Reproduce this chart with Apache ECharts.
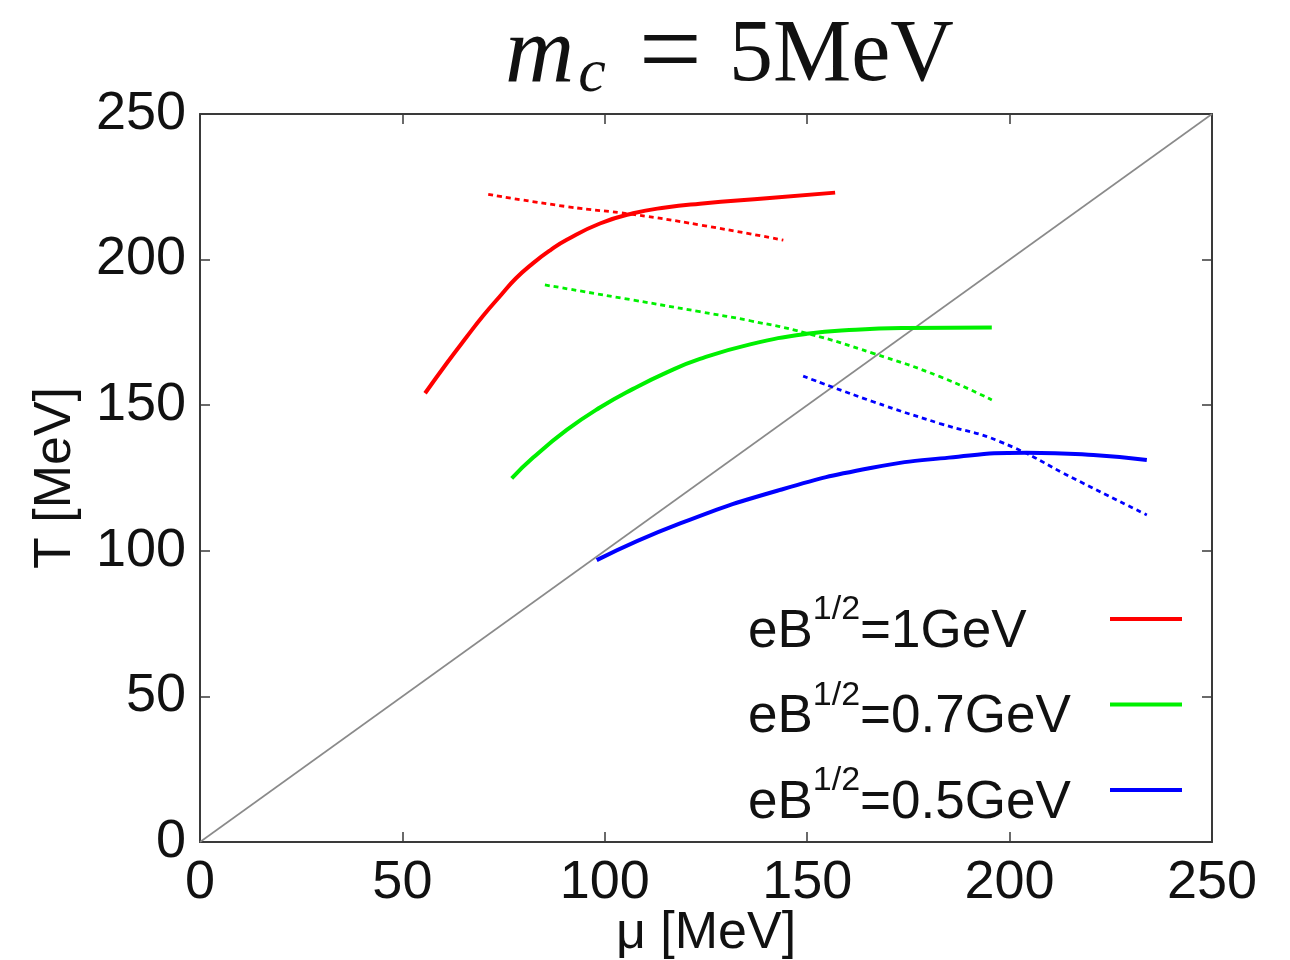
<!DOCTYPE html>
<html>
<head>
<meta charset="utf-8">
<script src="https://cdn.jsdelivr.net/npm/echarts@6/dist/echarts.min.js"></script>
<style>
  html, body { margin: 0; padding: 0; background: #fff; }
  #chart { width: 1290px; height: 960px; }
</style>
</head>
<body>
<div id="chart"></div>
<script>
// Axis ticks (MeV)
const tickValues = [0, 50, 100, 150, 200, 250];

// Legend entries (one per magnetic field strength)
const fieldLabels = ['eB1/2=1GeV', 'eB1/2=0.7GeV', 'eB1/2=0.5GeV'];

// eB^1/2 = 1 GeV : solid curve
const muRedSolid = [55.6, 61.0, 65.9, 70.0, 74.1, 78.0, 82.3, 86.5, 90.6, 98.8, 107.0, 115.0, 123.5, 140.0, 156.9];
const tRedSolid  = [154.1, 164.5, 173.5, 180.8, 187.4, 193.5, 198.8, 203.2, 206.8, 212.4, 215.9, 217.9, 219.2, 221.1, 223.0];
// eB^1/2 = 1 GeV : dashed curve
const muRedDash = [71.2, 90.6, 107.0, 123.5, 144.1];
const tRedDash  = [222.4, 218.2, 215.5, 211.9, 206.7];

// eB^1/2 = 0.7 GeV : solid curve
const muGreenSolid = [77.0, 82.3, 90.6, 98.8, 107.0, 115.2, 123.5, 135.9, 149.9, 162.0, 174.6, 195.6];
const tGreenSolid  = [124.9, 132.0, 141.5, 149.2, 155.6, 161.2, 165.9, 170.9, 174.5, 175.9, 176.5, 176.7];
// eB^1/2 = 0.7 GeV : dashed curve
const muGreenDash = [85.2, 107.0, 123.5, 135.9, 149.9, 166.3, 182.8, 195.6];
const tGreenDash  = [191.3, 186.1, 182.1, 179.0, 174.7, 167.8, 159.8, 151.8];

// eB^1/2 = 0.5 GeV : solid curve
const muBlueSolid = [98.0, 118.6, 143.3, 166.0, 185.0, 204.2, 220.7, 233.9];
const tBlueSolid  = [96.8, 109.4, 120.9, 128.5, 132.0, 133.7, 132.9, 131.2];
// eB^1/2 = 0.5 GeV : dashed curve
const muBlueDash = [149.0, 166.3, 182.8, 197.6, 216.6, 233.9];
const tBlueDash  = [160.0, 151.2, 143.7, 137.5, 124.3, 112.3];

// Reference line T = mu
const muDiag = [0, 250];
const tDiag  = [0, 250];

const RED = '#ff0000', GREEN = '#00f000', BLUE = '#0000ff';
const FRAME = '#3a3a3a';
const SANS = 'Liberation Sans, Arial, sans-serif';
const SERIF = 'Liberation Serif, Times New Roman, serif';

// Legend text: fixed-width text box so every key line starts at the same x
const LEGEND_FONT = 53, SUP_FONT = 34, LEGEND_TEXT_W = 357;
const measureCtx = document.createElement('canvas').getContext('2d');
function textWidth(str, size) {
  measureCtx.font = size + 'px "Liberation Sans"';
  return measureCtx.measureText(str).width;
}
const legendRich = {
  b: { fontFamily: SANS, fontSize: LEGEND_FONT, color: '#111', lineHeight: 78 },
  s: { fontFamily: SANS, fontSize: SUP_FONT, color: '#111', lineHeight: 16, verticalAlign: 'top' }
};
fieldLabels.forEach(function (name, i) {
  const rest = name.replace('eB1/2', '');
  const used = textWidth('eB', LEGEND_FONT) + textWidth('1/2', SUP_FONT) + textWidth(rest, LEGEND_FONT);
  legendRich['g' + i] = { fontSize: 10, width: Math.max(1, LEGEND_TEXT_W - used) };
});

function pairs(xs, ys) { return xs.map((x, i) => [x, ys[i]]); }

function curve(name, xs, ys, color, dashed) {
  return {
    name: name,
    type: 'line',
    data: pairs(xs, ys),
    symbol: 'none',
    smooth: 0.5,
    silent: true,
    z: dashed ? 3 : 4,
    lineStyle: dashed
      ? { color: color, width: 2.8, type: [5, 4] }
      : { color: color, width: 4 },
    itemStyle: { color: color }
  };
}

const axisLineStyle = { show: true, onZero: false, lineStyle: { color: FRAME, width: 2 } };
const tickStyle = { show: true, inside: true, length: 10, lineStyle: { color: FRAME, width: 1.5 } };
const tickLabelStyle = { fontFamily: SANS, fontSize: 54, color: '#111' };

const chart = echarts.init(document.getElementById('chart'), null, { renderer: 'canvas' });

chart.setOption({
  backgroundColor: '#ffffff',
  animation: false,
  title: {
    text: '{i|m}{sub|c}{eq|=}{r|5MeV}',
    left: 500,
    top: -4,
    textStyle: {
      rich: {
        i:   { fontFamily: SERIF, fontStyle: 'italic', fontWeight: 'normal', fontSize: 96, color: '#111', padding: [0, 4, 0, 0] },
        sub: { fontFamily: SERIF, fontStyle: 'italic', fontWeight: 'normal', fontSize: 62, color: '#111', padding: [36, 0, 0, 0] },
        eq:  { fontFamily: SERIF, fontWeight: 'normal', fontSize: 112, color: '#111', padding: [0, 27, 0, 33] },
        r:   { fontFamily: SERIF, fontWeight: 'normal', fontSize: 88, color: '#111' }
      }
    }
  },
  grid: { left: 200, right: 78, top: 114, bottom: 118, containLabel: false, outerBoundsMode: 'none' },
  legend: {
    data: fieldLabels,
    orient: 'vertical',
    align: 'right',
    left: 743,
    top: 588,
    itemGap: 20,
    itemWidth: 72,
    itemHeight: 4,
    icon: 'rect',
    selectedMode: false,
    formatter: function (name) {
      const i = fieldLabels.indexOf(name);
      return '{b|eB}{s|1/2}{b|' + name.replace('eB1/2', '') + '}{g' + i + '| }';
    },
    textStyle: {
      padding: [26, 0, 0, 0],
      rich: legendRich
    }
  },
  xAxis: [
    {
      type: 'value', position: 'bottom',
      min: tickValues[0], max: tickValues[tickValues.length - 1],
      interval: tickValues[1] - tickValues[0],
      name: 'μ [MeV]', nameLocation: 'middle', nameGap: 66, nameMoveOverlap: false,
      nameTextStyle: { fontFamily: SANS, fontSize: 52, color: '#111' },
      axisLine: axisLineStyle, axisTick: tickStyle,
      axisLabel: Object.assign({ margin: 14 }, tickLabelStyle),
      splitLine: { show: false }
    },
    {
      type: 'value', position: 'top',
      min: tickValues[0], max: tickValues[tickValues.length - 1],
      interval: tickValues[1] - tickValues[0],
      axisLine: axisLineStyle, axisTick: tickStyle,
      axisLabel: { show: false }, splitLine: { show: false }
    }
  ],
  yAxis: [
    {
      type: 'value', position: 'left',
      min: tickValues[0], max: tickValues[tickValues.length - 1],
      interval: tickValues[1] - tickValues[0],
      name: 'T [MeV]', nameLocation: 'middle', nameGap: 118, nameMoveOverlap: false,
      nameTextStyle: { fontFamily: SANS, fontSize: 52, color: '#111' },
      axisLine: axisLineStyle, axisTick: tickStyle,
      axisLabel: Object.assign({ margin: 14 }, tickLabelStyle),
      splitLine: { show: false }
    },
    {
      type: 'value', position: 'right',
      min: tickValues[0], max: tickValues[tickValues.length - 1],
      interval: tickValues[1] - tickValues[0],
      axisLine: axisLineStyle, axisTick: tickStyle,
      axisLabel: { show: false }, splitLine: { show: false }
    }
  ],
  series: [
    {
      name: 'T = mu',
      type: 'line',
      data: pairs(muDiag, tDiag),
      symbol: 'none',
      silent: true,
      z: 2,
      lineStyle: { color: '#8a8a8a', width: 1.6 }
    },
    curve('redDashed', muRedDash, tRedDash, RED, true),
    curve('greenDashed', muGreenDash, tGreenDash, GREEN, true),
    curve('blueDashed', muBlueDash, tBlueDash, BLUE, true),
    curve(fieldLabels[0], muRedSolid, tRedSolid, RED, false),
    curve(fieldLabels[1], muGreenSolid, tGreenSolid, GREEN, false),
    curve(fieldLabels[2], muBlueSolid, tBlueSolid, BLUE, false)
  ]
});
</script>
</body>
</html>
